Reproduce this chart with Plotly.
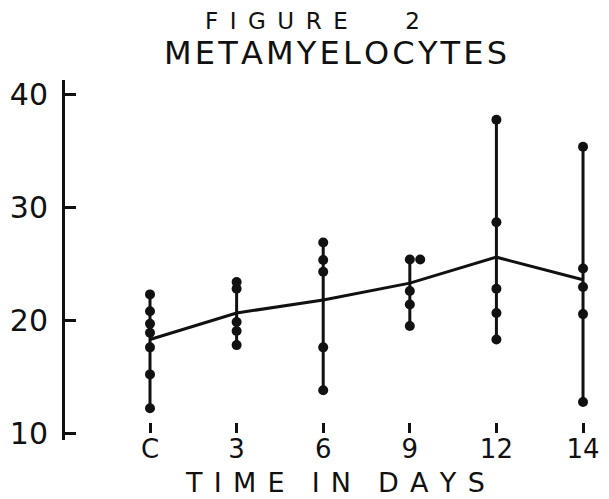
import numpy as np
import plotly.graph_objects as go

# ---- data ----
categories = ["C", "3", "6", "9", "12", "14"]
values_C = [22.3, 20.8, 19.7, 18.9, 17.6, 15.2, 12.2]
values_3 = [23.4, 22.8, 19.85, 19.05, 17.8]
values_6 = [26.9, 25.35, 24.3, 17.6, 13.8]
values_9 = [25.4, 25.4, 22.6, 21.4, 19.5]
values_12 = [37.8, 28.7, 22.8, 20.65, 18.3]
values_14 = [35.4, 24.6, 22.95, 20.55, 12.75]
means = [18.3, 20.65, 21.8, 23.3, 25.6, 23.6]
y_ticks = [10, 20, 30, 40]

series = [values_C, values_3, values_6, values_9, values_12, values_14]
xpos = np.arange(len(categories))

FONT = "DejaVu Sans"
ink = "#111111"

fig = go.Figure()

for i, vals in enumerate(series):
    uniq = sorted(set(vals))
    fig.add_trace(go.Scatter(
        x=[xpos[i]] * len(uniq), y=uniq, mode="lines+markers",
        line=dict(color=ink, width=3),
        marker=dict(color=ink, size=10),
        hoverinfo="y", showlegend=False))
    seen = {}
    dx, dy = [], []
    for v in vals:
        k = seen.get(v, 0)
        if k > 0:
            dx.append(xpos[i] + 0.12 * k)
            dy.append(v)
        seen[v] = k + 1
    if dx:
        fig.add_trace(go.Scatter(
            x=dx, y=dy, mode="markers",
            marker=dict(color=ink, size=10),
            hoverinfo="y", showlegend=False))

fig.add_trace(go.Scatter(
    x=xpos, y=means, mode="lines",
    line=dict(color=ink, width=3),
    hoverinfo="y", showlegend=False))

y0, y1 = 9.38, 41.32
x0, x1 = -0.9815, 5.196

hs = "\u200a"
title2 = hs.join("METAMYELOCYTES")
ls = " \u200a"
xtitle = "\u2002\u2002".join(ls.join(w) for w in ["TIME", "IN", "DAYS"])

fig.update_layout(
    width=609, height=499,
    margin=dict(l=65, r=9, t=80, b=59),
    paper_bgcolor="white", plot_bgcolor="white",
    font=dict(family=FONT, color=ink),
    xaxis=dict(
        range=[x0, x1], tickvals=xpos, ticktext=categories,
        ticks="inside", ticklen=10, tickwidth=2.5, tickcolor=ink,
        showline=False, showgrid=False, zeroline=False,
        anchor="free", position=(10 - y0) / (y1 - y0),
        tickfont=dict(family=FONT, size=26, color=ink),
        ticklabelstandoff=-2,
    ),
    yaxis=dict(
        range=[y0, y1], tickvals=y_ticks,
        ticks="inside", ticklen=11, tickwidth=3, tickcolor=ink,
        showline=True, linecolor=ink, linewidth=3,
        showgrid=False, zeroline=False,
        tickfont=dict(family=FONT, size=30, color=ink),
        ticklabelstandoff=8,
    ),
    annotations=[
        dict(text="F\u2002I\u2002G\u2002U\u2002R\u2002E\u2002\u2002\u2002\u2002\u20022",
             xref="paper", yref="paper", x=0.462, y=1.164,
             xanchor="center", yanchor="middle", showarrow=False,
             font=dict(family=FONT, size=23, color=ink)),
        dict(text=title2,
             xref="paper", yref="paper", x=0.505, y=1.074,
             xanchor="center", yanchor="middle", showarrow=False,
             font=dict(family=FONT, size=32, color=ink)),
        dict(text=xtitle,
             xref="paper", yref="paper", x=0.505, y=-0.117,
             xanchor="center", yanchor="middle", showarrow=False,
             font=dict(family=FONT, size=27, color=ink)),
    ],
)

fig.write_html("out.html")
